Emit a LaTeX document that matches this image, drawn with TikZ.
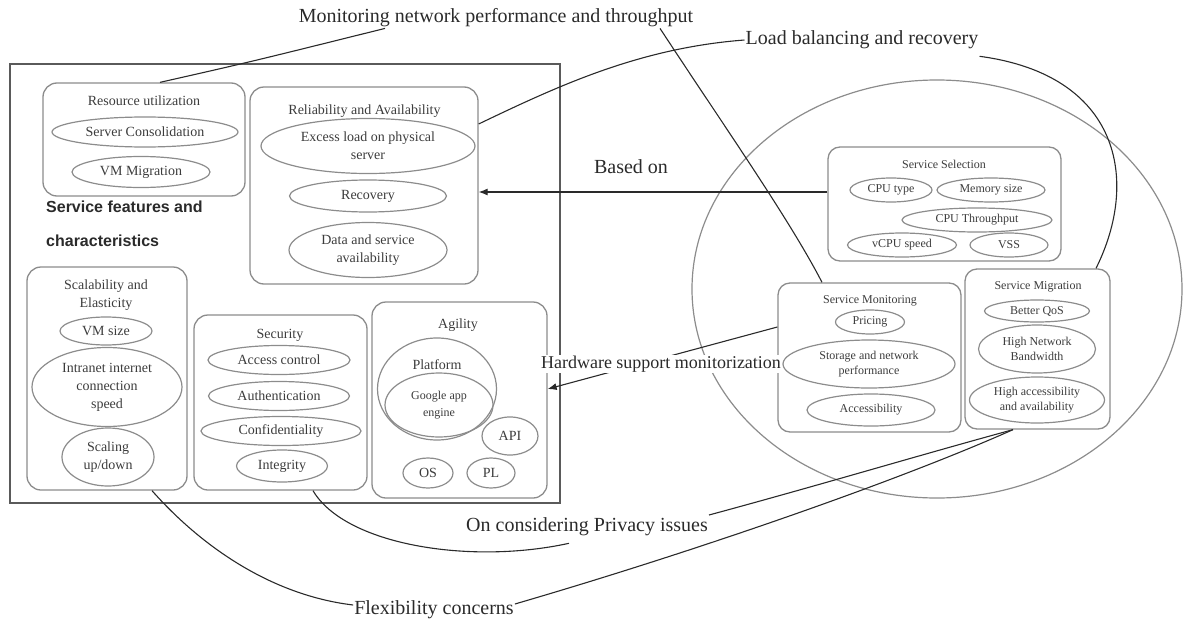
\documentclass[tikz,border=0pt]{standalone}
\usepackage{fontspec}
\setmainfont{Liberation Serif}
\newfontfamily\boldsans{Liberation Sans}
\usetikzlibrary{shapes.geometric,arrows.meta,calc}
\definecolor{edge}{HTML}{8C8C8C}
\definecolor{frame}{HTML}{5A5A5A}
\definecolor{ink}{HTML}{2A2A2A}
\definecolor{txt}{HTML}{3C3C3C}
\begin{document}
\begin{tikzpicture}[x=1pt,y=-1pt,
  grp/.style={draw=edge, line width=1.3pt, rounded corners=14pt, inner sep=0pt},
  oval/.style={ellipse, draw=edge, line width=1.2pt, inner sep=0pt, align=center,
               font=\fontsize{14}{18}\selectfont, text=txt},
  ovalS/.style={oval, font=\fontsize{12}{14.5}\selectfont},
  ttl/.style={font=\fontsize{14}{18}\selectfont, text=txt, align=center, inner sep=0pt},
  ttlS/.style={font=\fontsize{12}{14}\selectfont, text=txt, inner sep=0pt},
  lbl/.style={font=\fontsize{20}{22}\selectfont, text=ink, inner sep=1pt},
  conn/.style={draw=ink, line width=1.1pt},
  arr/.style={conn, -{Latex[length=9pt,width=7pt]}}]
\useasboundingbox (0,0) rectangle (1192,624);

% outer frame (left)
\node[draw=frame, line width=1.3pt, minimum width=550pt, minimum height=439pt, inner sep=0pt] (outer) at (285,283.5) {};

% big ellipse (right)
\node[ellipse, draw=edge, line width=1.2pt, minimum width=490pt, minimum height=418pt, inner sep=0pt] (cloud) at (937,289) {};

% Resource utilization
\node[grp, minimum width=202pt, minimum height=113pt] (res) at (144,139.5) {};
\node[ttl] (resT) at (144,101) {Resource utilization};
\node[oval, minimum width=186pt, minimum height=30pt] (sc) at (145,132) {Server Consolidation};
\node[oval, minimum width=138pt, minimum height=31pt] (vmm) at (141,172) {VM Migration};

\node[anchor=west, inner sep=0pt, text=ink, font=\boldsans\bfseries\fontsize{16}{18}\selectfont] (sf1) at (46,207) {Service features and};
\node[anchor=west, inner sep=0pt, text=ink, font=\boldsans\bfseries\fontsize{16}{18}\selectfont] (sf2) at (46,241) {characteristics};

% Reliability and Availability
\node[grp, minimum width=228pt, minimum height=197pt] (rel) at (364,185.5) {};
\node[ttl] (relT) at (364.5,111) {Reliability and Availability};
\node[oval, minimum width=214pt, minimum height=55pt] (exl) at (368,146) {Excess load on physical\\server};
\node[oval, minimum width=157pt, minimum height=32pt] (rec) at (368,196) {Recovery};
\node[oval, minimum width=158pt, minimum height=55pt] (dsa) at (368,250) {Data and service\\availability};

% Scalability and Elasticity
\node[grp, minimum width=160pt, minimum height=223pt] (sca) at (107,378.5) {};
\node[ttl] (scaT) at (106,295) {Scalability and\\Elasticity};
\node[oval, minimum width=92pt, minimum height=28pt] (vms) at (106,331) {VM size};
\node[oval, minimum width=150pt, minimum height=79pt] (iic) at (107,387) {Intranet internet\\connection\\speed};
\node[oval, minimum width=92pt, minimum height=58pt] (sud) at (108,457) {Scaling\\up/down};

% Security
\node[grp, minimum width=173pt, minimum height=175pt] (sec) at (280.5,402.5) {};
\node[ttl] (secT) at (280,335) {Security};
\node[oval, minimum width=142pt, minimum height=29pt] (acc) at (279,360) {Access control};
\node[oval, minimum width=141pt, minimum height=29pt] (aut) at (279,396) {Authentication};
\node[oval, minimum width=160pt, minimum height=29pt] (con) at (281,431) {Confidentiality};
\node[oval, minimum width=91pt, minimum height=32pt] (int) at (282,466) {Integrity};

% Agility
\node[grp, minimum width=175pt, minimum height=196pt] (agi) at (459.5,400) {};
\node[ttl] (agiT) at (458,325) {Agility};
\node[oval, minimum width=119pt, minimum height=102pt] (plat) at (437,389) {};
\node[ttl] (platT) at (437,365) {Platform};
\node[oval, font=\fontsize{12}{17}\selectfont, minimum width=108pt, minimum height=64pt] (gae) at (439,405) {Google app\\engine};
\node[oval, minimum width=56pt, minimum height=38pt] (api) at (510,436) {API};
\node[oval, minimum width=50pt, minimum height=30pt] (os) at (428,473) {OS};
\node[oval, minimum width=48pt, minimum height=30pt] (pl) at (491,473) {PL};

% Service Selection
\node[grp, rounded corners=12pt, minimum width=233pt, minimum height=114pt] (sel) at (944.5,204) {};
\node[ttlS] (selT) at (944,164) {Service Selection};
\node[ovalS, minimum width=82pt, minimum height=24pt] (cpu) at (891,190) {CPU type};
\node[ovalS, minimum width=108pt, minimum height=24pt] (mem) at (991,190) {Memory size};
\node[ovalS, minimum width=150pt, minimum height=24pt] (cth) at (977,220) {CPU Throughput};
\node[ovalS, minimum width=109pt, minimum height=24pt] (vcp) at (902,245) {vCPU speed};
\node[ovalS, minimum width=78pt, minimum height=24pt] (vss) at (1009,245) {VSS};

% Service Monitoring
\node[grp, rounded corners=12pt, minimum width=183pt, minimum height=149pt] (mon) at (869.5,357.5) {};
\node[ttlS] (monT) at (870,301) {Service Monitoring};
\node[ovalS, minimum width=69pt, minimum height=24pt] (pri) at (870,322) {Pricing};
\node[ovalS, minimum width=172pt, minimum height=48pt] (snp) at (869,364) {Storage and network\\performance};
\node[ovalS, minimum width=128pt, minimum height=32pt] (acs) at (871,410) {Accessibility};

% Service Migration
\node[grp, rounded corners=12pt, minimum width=145pt, minimum height=160pt] (mig) at (1037.5,349) {};
\node[ttlS] (migT) at (1038,287) {Service Migration};
\node[ovalS, minimum width=105pt, minimum height=22pt] (qos) at (1037,311) {Better QoS};
\node[ovalS, minimum width=117pt, minimum height=48pt] (hnb) at (1037,349) {High Network\\Bandwidth};
\node[ovalS, minimum width=135pt, minimum height=46pt] (haa) at (1037,400) {High accessibility\\and availability};

% labels
\node[lbl] (lblMon) at (496,18) {Monitoring network performance and throughput};
\node[lbl] (lblLB) at (862,40) {Load balancing and recovery};
\node[lbl] (lblBased) at (631,167) {Based on};
\node[lbl] (lblPriv) at (587,527) {On considering Privacy issues};
\node[lbl] (lblFlex) at (434,610) {Flexibility concerns};

% connectors
\draw[conn] (res.north -| 160,0) .. controls (250,62) .. (lblMon.south -| 385,0);
\draw[conn] (lblMon.south -| 660,0) .. controls (720,120) and (790,220) .. (mon.north -| 822,0);
\draw[conn] (rel.east |- 0,124) .. controls (560,85) and (640,48) .. (lblLB.west);
\draw[conn] ([yshift=-6pt]lblLB.south east) .. controls (1120,75) and (1140,180) .. (mig.north -| 1096,0);
\draw[arr] (sel.west |- 0,192) -- (rel.east |- 0,192);
\draw[arr] (mon.west |- 0,327) -- (agi.east |- 0,389);
\node[lbl, fill=white, font=\fontsize{18}{20}\selectfont] (lblHW) at (661,364) {Hardware support monitorization};
\draw[conn] (sec.south -| 313,0) .. controls (345,545) and (470,565) .. ($(lblPriv.south)+(-18,6)$);
\draw[conn] ($(lblPriv.east)+(0,-12)$) .. controls (820,485) and (920,455) .. (mig.south -| 1013,0);
\draw[conn] (sca.south -| 152,0) .. controls (200,545) and (270,595) .. ($(lblFlex.west)+(0,-5)$);
\draw[conn] ($(lblFlex.east)+(0,-6)$) .. controls (700,550) and (900,480) .. (mig.south -| 1013,0);
\end{tikzpicture}
\end{document}
